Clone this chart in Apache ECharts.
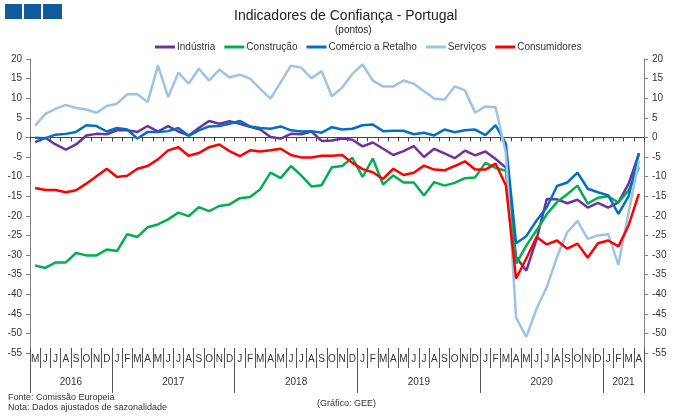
<!DOCTYPE html>
<html>
<head>
<meta charset="utf-8">
<script src="https://cdn.jsdelivr.net/npm/echarts@6/dist/echarts.min.js"></script>
<style>
html, body { margin: 0; padding: 0; background: #fff; }
#echart { width: 681px; height: 418px; }
</style>
</head>
<body>
<div id="echart"></div>
<script>
// meses de mai/2016 a abr/2021
var meses = ['M','J','J','A','S','O','N','D',
    'J','F','M','A','M','J','J','A','S','O','N','D',
    'J','F','M','A','M','J','J','A','S','O','N','D',
    'J','F','M','A','M','J','J','A','S','O','N','D',
    'J','F','M','A','M','J','J','A','S','O','N','D',
    'J','F','M','A'];
var anos = ['2016', '2017', '2018', '2019', '2020', '2021'];
var mesesPorAno = [8, 12, 12, 12, 12, 4];

var industria = [-1.2, -0.1, -1.8, -3.1, -1.8, 0.5, 0.9, 0.8,
    1.8, 1.8, 1.4, 2.9, 1.5, 2.9, 1.5, 0.5, 2.4, 4.2, 3.5, 4.1,
    3.5, 2.7, 2.0, 0.1, -0.3, 0.9, 0.8, 1.5, -0.9, -0.8, -0.3, -0.6,
    -2.3, -1.3, -2.9, -4.5, -3.5, -2.2, -5.0, -2.9, -4.1, -5.3, -3.4, -4.6,
    -3.6, -5.5, -7.7, -30.5, -34.0, -26.0, -15.7, -15.8, -16.8, -15.9, -17.9, -16.7,
    -17.9, -16.6, -11.8, -4.2];
var construcao = [-32.7, -33.3, -31.9, -31.9, -29.5, -30.1, -30.1, -28.6,
    -29.0, -24.7, -25.4, -22.9, -22.2, -20.9, -19.2, -20.1, -17.8, -18.8, -17.5, -17.1,
    -15.5, -15.2, -13.2, -9.0, -10.4, -7.3, -9.7, -12.5, -12.2, -7.6, -7.3, -5.2,
    -10.1, -5.4, -12.0, -9.7, -11.5, -11.5, -14.8, -11.4, -12.3, -11.6, -10.4, -10.2,
    -6.5, -7.8, -8.5, -32.2, -27.6, -23.7, -19.6, -16.5, -14.5, -12.3, -16.9, -15.4,
    -15.0, -16.6, -13.5, -7.6];
var comercio = [-0.1, -0.2, 0.7, 0.9, 1.4, 3.1, 2.9, 1.5,
    2.4, 2.0, -0.3, 1.4, 1.4, 1.6, 2.4, 0.4, 1.8, 2.8, 2.9, 3.5,
    4.2, 2.8, 2.4, 2.2, 2.8, 1.8, 1.5, 1.6, 1.2, 2.6, 2.0, 2.2,
    3.1, 3.3, 1.6, 1.7, 1.7, 0.8, 1.2, 0.5, 2.0, 1.3, 1.8, 2.0,
    0.6, 3.1, -1.6, -27.0, -25.2, -21.2, -17.8, -12.4, -11.5, -9.0, -13.1, -14.0,
    -14.8, -19.5, -15.0, -4.0];
var servicos = [3.0, 6.0, 7.3, 8.3, 7.5, 7.1, 6.3, 8.0,
    8.6, 11.0, 11.0, 9.0, 18.3, 10.3, 16.5, 13.7, 17.5, 14.5, 17.3, 15.3,
    16.0, 15.0, 12.4, 9.9, 14.1, 18.3, 17.8, 15.1, 16.9, 10.5, 12.7, 16.2,
    18.6, 14.5, 13.0, 13.0, 14.5, 13.7, 11.8, 9.9, 9.6, 13.0, 12.0, 6.3,
    7.9, 7.7, -4.0, -46.0, -50.9, -43.7, -38.2, -30.5, -24.2, -21.3, -25.9, -25.0,
    -24.7, -32.5, -19.0, -6.0];
var consumidores = [-12.9, -13.4, -13.4, -14.0, -13.5, -11.8, -9.9, -8.0,
    -10.1, -9.8, -8.0, -7.3, -5.6, -3.3, -2.5, -4.7, -4.0, -2.5, -1.8, -3.5,
    -4.8, -3.3, -3.6, -3.3, -2.9, -4.5, -5.1, -5.1, -4.7, -4.7, -4.5, -6.5,
    -8.1, -8.9, -10.6, -8.0, -9.6, -9.0, -7.2, -8.2, -8.4, -7.3, -6.1, -8.2,
    -8.2, -6.7, -12.2, -36.0, -30.9, -25.4, -27.3, -26.3, -28.4, -27.1, -30.7, -27.0,
    -26.3, -27.8, -22.4, -14.4];

var nomes = ['Indústria', 'Construção', 'Comércio a Retalho', 'Serviços', 'Consumidores'];
var cores = ['#7030A0', '#00B050', '#0070C0', '#9DC3E6', '#FF0000'];
var valores = [industria, construcao, comercio, servicos, consumidores];

// limites e centros de cada ano no eixo dos meses
var limitesAno = [0];
var centrosAno = [];
mesesPorAno.forEach(function (n, i) {
    centrosAno.push(limitesAno[i] + n / 2);
    limitesAno.push(limitesAno[i] + n);
});

var fonte = 'Arial, "Liberation Sans", sans-serif';
var myChart = echarts.init(document.getElementById('echart'));

var series = nomes.map(function (nome, i) {
    return {
        name: nome,
        type: 'line',
        data: valores[i],
        symbol: 'none',
        color: cores[i],
        lineStyle: { width: 2.5, color: cores[i] },
        animation: false
    };
});

var eixoY = function (pos) {
    return {
        type: 'value',
        position: pos,
        min: -55,
        max: 20,
        interval: 5,
        axisLine: { show: true, lineStyle: { color: '#808080' } },
        axisTick: { show: true, length: 4, lineStyle: { color: '#808080' } },
        splitLine: { show: false },
        axisLabel: { fontSize: 10, color: '#333', margin: 8 }
    };
};

option = {
    textStyle: { fontFamily: fonte },
    animation: false,
    title: [
        {
            text: 'Indicadores de Confiança - Portugal',
            left: 229,
            top: 4,
            textStyle: { fontSize: 14, fontWeight: 'normal', color: '#222' }
        },
        {
            text: '(pontos)',
            left: 330,
            top: 20,
            textStyle: { fontSize: 10, fontWeight: 'normal', color: '#222' }
        }
    ],
    legend: {
        data: nomes,
        left: 150,
        top: 37,
        icon: 'rect',
        itemWidth: 20,
        itemHeight: 3,
        itemGap: 9,
        textStyle: { fontSize: 10, color: '#333', padding: [0, 0, 0, -3] }
    },
    grid: {
        left: 30,
        right: 37,
        top: 59,
        bottom: 65,
        outerBoundsMode: 'none'
    },
    xAxis: [
        {
            type: 'category',
            data: meses,
            axisLine: { onZero: true, lineStyle: { color: '#444' } },
            axisTick: { show: true, interval: 0, length: 4, lineStyle: { color: '#444' } },
            axisLabel: { show: false }
        },
        {
            type: 'category',
            data: meses,
            position: 'bottom',
            offset: -5,
            axisLine: { show: true, onZero: false, lineStyle: { color: 'rgba(0,0,0,0)' } },
            axisTick: { show: true, interval: 0, length: 20, lineStyle: { color: '#555' } },
            axisLabel: { show: true, interval: 0, fontSize: 10, color: '#333', margin: 6 }
        },
        {
            type: 'value',
            min: 0,
            max: 60,
            position: 'bottom',
            axisLine: { show: false, onZero: false },
            splitLine: { show: false },
            axisTick: { show: true, customValues: limitesAno, length: 40, lineStyle: { color: '#555' } },
            axisLabel: {
                customValues: centrosAno,
                fontSize: 10,
                color: '#333',
                margin: 24,
                formatter: function (v) { return anos[centrosAno.indexOf(v)]; }
            }
        }
    ],
    yAxis: [eixoY('left'), eixoY('right')],
    graphic: [
        { type: 'rect', left: 5, top: 4, shape: { width: 17, height: 15 }, style: { fill: '#115a9c' } },
        { type: 'rect', left: 24, top: 4, shape: { width: 17, height: 15 }, style: { fill: '#115a9c' } },
        { type: 'rect', left: 43, top: 4, shape: { width: 19, height: 15 }, style: { fill: '#115a9c' } },
        { type: 'text', left: 8, top: 393, style: { text: 'Fonte: Comissão Europeia', fontSize: 9, fill: '#333', fontFamily: fonte } },
        { type: 'text', left: 8, top: 403, style: { text: 'Nota: Dados ajustados de sazonalidade', fontSize: 9, fill: '#333', fontFamily: fonte } },
        { type: 'text', left: 317, top: 399, style: { text: '(Gráfico: GEE)', fontSize: 9, fill: '#333', fontFamily: fonte } }
    ],
    series: series
};
myChart.setOption(option);
</script>
</body>
</html>
